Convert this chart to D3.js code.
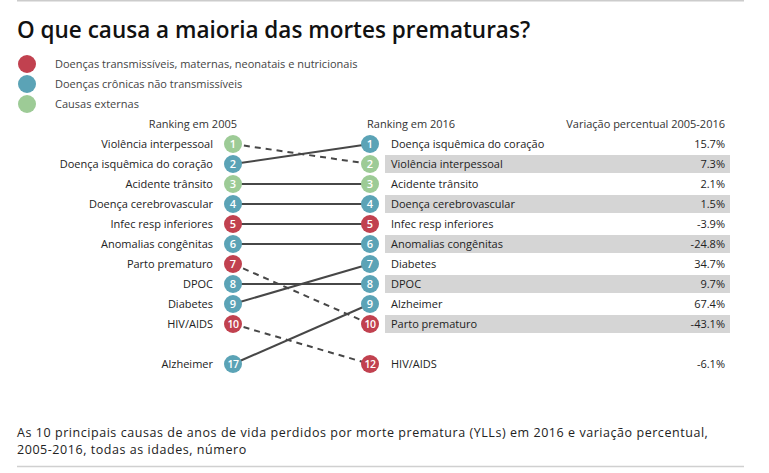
<!DOCTYPE html>
<html><head><meta charset="utf-8">
<script src="https://cdn.jsdelivr.net/npm/d3@7"></script>
<style>
body{margin:0;background:#fff;}
svg{font-family:"Open Sans","Segoe UI",sans-serif;}
</style></head>
<body><svg id="c" width="769" height="473"></svg>
<script>
const causes = ["Violência interpessoal","Doença isquêmica do coração","Acidente trânsito","Doença cerebrovascular","Infec resp inferiores","Anomalias congênitas","Parto prematuro","DPOC","Diabetes","HIV/AIDS","Alzheimer"];
const groups = ["ext","ncd","ext","ncd","cmn","ncd","cmn","ncd","ncd","cmn","ncd"];
const rank2005 = [1,2,3,4,5,6,7,8,9,10,17];
const rank2016 = [2,1,3,4,5,6,10,8,7,12,9];
const change = ["7.3%","15.7%","2.1%","1.5%","-3.9%","-24.8%","-43.1%","9.7%","34.7%","-6.1%","67.4%"];
const legendKeys = ["cmn","ncd","ext"];
const legendLabels = ["Doenças transmissíveis, maternas, neonatais e nutricionais","Doenças crônicas não transmissíveis","Causas externas"];
const colorRange = ["#c1414f","#5ba3b6","#9dcb96"];
const footLines = ["As 10 principais causas de anos de vida perdidos por morte prematura (YLLs) em 2016 e variação percentual,","2005-2016, todas as idades, número"];

const data = causes.map((c,i)=>({cause:c,group:groups[i],r05:rank2005[i],r16:rank2016[i],chg:change[i]}));
const slot = r => r<=10 ? r : 12;
const y = d3.scaleLinear().domain([1,12]).range([144,364]);
const x = d3.scalePoint().domain(["2005","2016"]).range([233,370]);
const color = d3.scaleOrdinal().domain(legendKeys).range(colorRange);

const svg = d3.select("#c");
svg.append("line").attr("x1",17).attr("x2",744).attr("y1",0.5).attr("y2",0.5).attr("stroke","#ccc").attr("stroke-width",2);
svg.append("line").attr("x1",17).attr("x2",744).attr("y1",466.5).attr("y2",466.5).attr("stroke","#d0d0d0").attr("stroke-width",1.5);

svg.append("text").attr("x",17).attr("y",38).attr("font-size",22.5).attr("font-weight",600).attr("fill","#111")
  .text("O que causa a maioria das mortes prematuras?");

const lg = svg.append("g");
legendKeys.forEach((k,i)=>{
  lg.append("circle").attr("cx",27).attr("cy",64+i*20).attr("r",9).attr("fill",color(k));
  lg.append("text").attr("x",55).attr("y",68+i*20).attr("font-size",11).attr("fill","#444").text(legendLabels[i]);
});

// headers
svg.append("text").attr("x",237).attr("y",128).attr("text-anchor","end").attr("font-size",11).attr("fill","#333").text("Ranking em 2005");
svg.append("text").attr("x",367).attr("y",128).attr("font-size",11).attr("fill","#333").text("Ranking em 2016");
svg.append("text").attr("x",725).attr("y",128).attr("text-anchor","end").attr("font-size",11).attr("fill","#333").text("Variação percentual 2005-2016");

// shaded rows
const shaded = data.filter(d=>d.r16<=10 && d.r16%2===0);
svg.selectAll("rect.sh").data(shaded).join("rect").attr("class","sh")
  .attr("x",385).attr("width",345).attr("y",d=>y(slot(d.r16))-9).attr("height",18).attr("fill","#d5d5d5");

// lines
svg.selectAll("line.sl").data(data).join("line").attr("class","sl")
  .attr("x1",x("2005")).attr("x2",x("2016"))
  .attr("y1",d=>y(slot(d.r05))).attr("y2",d=>y(slot(d.r16)))
  .attr("stroke","#474747").attr("stroke-width",2)
  .attr("stroke-dasharray",d=>d.r16>d.r05?"6,5":null);

// circles
["2005","2016"].forEach(yr=>{
  const key = yr==="2005"?"r05":"r16";
  const g = svg.append("g");
  g.selectAll("circle").data(data).join("circle")
    .attr("cx",x(yr)).attr("cy",d=>y(slot(d[key]))).attr("r",9).attr("fill",d=>color(d.group));
  g.selectAll("text").data(data).join("text")
    .attr("x",x(yr)).attr("y",d=>y(slot(d[key]))+4).attr("text-anchor","middle")
    .attr("font-size",d=>d[key]>=10?10.5:11).attr("font-weight",600).attr("fill","#fff")
    .attr("letter-spacing",d=>d[key]>=10?-0.5:0)
    .text(d=>d[key]);
});

// labels
svg.selectAll("text.l05").data(data).join("text").attr("class","l05")
  .attr("x",213).attr("y",d=>y(slot(d.r05))+4).attr("text-anchor","end")
  .attr("font-size",11).attr("fill","#222").text(d=>d.cause);
svg.selectAll("text.l16").data(data).join("text").attr("class","l16")
  .attr("x",391).attr("y",d=>y(slot(d.r16))+4)
  .attr("font-size",11).attr("fill","#222").text(d=>d.cause);
svg.selectAll("text.pc").data(data).join("text").attr("class","pc")
  .attr("x",725).attr("y",d=>y(slot(d.r16))+4).attr("text-anchor","end")
  .attr("font-size",11).attr("fill","#222").text(d=>d.chg);

// footnote
svg.selectAll("text.fn").data(footLines).join("text").attr("class","fn")
  .attr("x",17).attr("y",(d,i)=>437+i*17).attr("font-size",12.5).attr("letter-spacing",0.55)
  .attr("fill","#222").text(d=>d);
</script></body></html>
